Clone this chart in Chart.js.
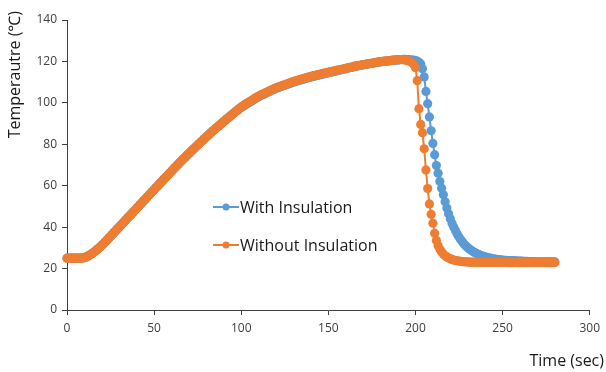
<!DOCTYPE html>
<html>
<head>
<meta charset="utf-8">
<script src="https://cdn.jsdelivr.net/npm/chart.js@4"></script>
<style>
  html, body { margin: 0; padding: 0; background: #ffffff; }
  #wrap { width: 606px; height: 372px; }
</style>
</head>
<body>
<div id="wrap"><canvas id="c" width="606" height="372"></canvas></div>
<script>
// ---- data ----
const seriesNames = ["With Insulation", "Without Insulation"];
const xTickValues = [0, 50, 100, 150, 200, 250, 300];
const yTickValues = [0, 20, 40, 60, 80, 100, 120, 140];
const xTitle = "Time (sec)";
const yTitle = "Temperautre (\u2103)";

// time in seconds, one reading per second
const time = Array.from({ length: 281 }, (_, i) => i);

const withInsulation = [
  25.0,25.0,25.0,25.0,25.0,25.0,25.0,25.0,25.0,25.1,
  25.3,25.6,26.0,26.5,27.0,27.6,28.3,29.0,29.7,30.4,
  31.2,32.0,32.9,33.8,34.7,35.6,36.5,37.4,38.3,39.2,
  40.1,41.0,41.9,42.8,43.7,44.6,45.5,46.4,47.3,48.2,
  49.1,50.0,50.9,51.8,52.7,53.6,54.5,55.4,56.3,57.2,
  58.1,59.0,59.9,60.8,61.7,62.6,63.5,64.3,65.2,66.1,
  67.0,67.9,68.8,69.6,70.5,71.4,72.2,73.1,73.9,74.8,
  75.6,76.4,77.2,78.0,78.8,79.6,80.4,81.2,82.0,82.8,
  83.6,84.4,85.1,85.9,86.6,87.4,88.1,88.8,89.6,90.3,
  91.0,91.7,92.4,93.1,93.8,94.5,95.2,95.9,96.6,97.3,
  97.8,98.3,98.8,99.4,99.9,100.4,100.9,101.5,102.0,102.5,
  103.0,103.4,103.8,104.2,104.6,105.0,105.4,105.8,106.2,106.6,
  107.0,107.3,107.6,107.9,108.2,108.5,108.8,109.1,109.4,109.7,
  110.0,110.3,110.5,110.8,111.0,111.3,111.5,111.8,112.0,112.3,
  112.5,112.7,112.9,113.1,113.3,113.5,113.7,113.9,114.1,114.3,
  114.5,114.7,114.9,115.1,115.3,115.5,115.7,115.9,116.1,116.3,
  116.5,116.7,116.9,117.1,117.3,117.5,117.7,117.9,118.0,118.2,
  118.4,118.5,118.7,118.8,119.0,119.1,119.3,119.4,119.6,119.7,
  119.8,119.9,120.0,120.1,120.2,120.3,120.4,120.5,120.6,120.6,
  120.7,120.8,120.9,121.0,121.0,120.9,120.9,120.8,120.7,120.6,
  120.4,120.1,119.6,118.8,116.5,112.5,105.5,99.6,93.2,86.5,
  80.4,75.0,69.7,66.0,62.0,58.8,55.6,52.2,49.2,46.5,
  44.0,41.8,39.9,38.2,36.6,35.2,33.9,32.8,31.8,30.9,
  30.1,29.4,28.8,28.2,27.7,27.3,26.9,26.5,26.2,25.9,
  25.7,25.4,25.2,25.0,24.8,24.7,24.5,24.4,24.3,24.2,
  24.1,24.0,24.0,23.9,23.9,23.8,23.8,23.7,23.7,23.6,
  23.6,23.6,23.5,23.5,23.5,23.4,23.4,23.4,23.4,23.3,
  23.3,23.3,23.3,23.3,23.2,23.2,23.2,23.2,23.2,23.2,23.2
];

const withoutInsulation = [
  25.0,25.0,25.0,25.0,25.0,25.0,25.0,25.0,25.0,25.1,
  25.3,25.6,26.0,26.5,27.0,27.6,28.3,29.0,29.7,30.4,
  31.2,32.0,32.9,33.8,34.7,35.6,36.5,37.4,38.3,39.2,
  40.1,41.0,41.9,42.8,43.7,44.6,45.5,46.4,47.3,48.2,
  49.1,50.0,50.9,51.8,52.7,53.6,54.5,55.4,56.3,57.2,
  58.1,59.0,59.9,60.8,61.7,62.6,63.5,64.3,65.2,66.1,
  67.0,67.9,68.8,69.6,70.5,71.4,72.2,73.1,73.9,74.8,
  75.6,76.4,77.2,78.0,78.8,79.6,80.4,81.2,82.0,82.8,
  83.6,84.4,85.1,85.9,86.6,87.4,88.1,88.8,89.6,90.3,
  91.0,91.7,92.4,93.1,93.8,94.5,95.2,95.9,96.6,97.3,
  98.0,98.6,99.1,99.7,100.2,100.7,101.2,101.8,102.3,102.8,
  103.3,103.7,104.1,104.5,104.9,105.3,105.7,106.1,106.5,106.9,
  107.3,107.6,107.9,108.2,108.5,108.8,109.1,109.4,109.7,110.0,
  110.3,110.6,110.8,111.1,111.3,111.6,111.8,112.1,112.3,112.6,
  112.8,113.0,113.2,113.4,113.6,113.8,114.0,114.2,114.4,114.6,
  114.8,115.0,115.1,115.4,115.5,115.8,115.9,116.1,116.3,116.4,
  116.6,116.9,117.2,117.1,117.4,117.7,117.8,118.1,118.0,118.3,
  118.4,118.6,118.7,118.9,119.1,119.0,119.3,119.5,119.6,119.8,
  119.9,120.0,120.1,120.2,120.3,120.4,120.5,120.6,120.7,120.8,
  120.8,120.9,120.9,120.8,120.7,120.5,120.3,120.0,119.4,118.6,
  117.0,110.7,97.2,89.6,85.6,77.8,67.6,58.6,51.2,46.2,
  41.9,37.0,33.5,31.0,29.3,28.0,27.0,26.2,25.6,25.1,
  24.7,24.4,24.1,23.9,23.7,23.6,23.5,23.4,23.3,23.2,
  23.2,23.1,23.1,23.1,23.0,23.0,23.0,23.0,23.0,23.0,
  23.0,23.0,23.0,23.0,23.0,23.0,23.0,23.0,23.0,23.0,
  23.0,23.0,23.0,22.9,23.0,22.9,22.9,23.0,22.9,22.9,
  22.9,22.9,22.9,22.9,22.9,22.9,22.9,22.9,22.9,22.9,
  22.9,22.9,22.9,22.9,22.9,22.9,22.9,22.9,22.9,22.9,22.9
];

// ---- styles ----
const BLUE = "#5B9BD5";
const ORANGE = "#ED7D31";
const AXIS = "#404040";
const FONT = "'Open Sans', 'Noto Sans', sans-serif";

const toXY = (vals) => vals.map((v, i) => ({ x: time[i], y: v }));

const overlayPlugin = {
  id: "overlay",
  afterDraw(chart) {
    const ctx = chart.ctx;
    ctx.save();
    // Legend inside plot area (drawn in dataset index order)
    const legendX = 213, lineLen = 26, rowY = [207, 245];
    chart.data.datasets.forEach((ds, i) => {
      const y = rowY[i];
      ctx.strokeStyle = ds.borderColor;
      ctx.lineWidth = 2;
      ctx.beginPath();
      ctx.moveTo(legendX, y);
      ctx.lineTo(legendX + lineLen, y);
      ctx.stroke();
      ctx.fillStyle = ds.borderColor;
      ctx.beginPath();
      ctx.arc(legendX + lineLen / 2, y, 3.5, 0, Math.PI * 2);
      ctx.fill();
      ctx.fillStyle = "#1a1a1a";
      ctx.font = "16px " + FONT;
      ctx.textAlign = "left";
      ctx.textBaseline = "middle";
      ctx.fillText(ds.label, legendX + lineLen + 1, y + 1);
    });
    // X axis title (bottom right)
    ctx.fillStyle = "#1a1a1a";
    ctx.font = "16px " + FONT;
    ctx.textAlign = "right";
    ctx.textBaseline = "middle";
    ctx.fillText(xTitle, 604, 361);
    // Y axis title (rotated, aligned to top)
    ctx.translate(15, 11);
    ctx.rotate(-Math.PI / 2);
    ctx.textAlign = "right";
    ctx.textBaseline = "middle";
    ctx.font = "16px " + FONT;
    ctx.fillText(yTitle, 0, 0);
    ctx.restore();
  }
};

new Chart(document.getElementById("c"), {
  type: "line",
  data: {
    datasets: [
      {
        label: seriesNames[0],
        data: toXY(withInsulation),
        borderColor: BLUE,
        backgroundColor: BLUE,
        pointBackgroundColor: BLUE,
        pointBorderWidth: 0,
        pointRadius: 4.6,
        borderWidth: 2,
        tension: 0,
        clip: false,
        order: 2
      },
      {
        label: seriesNames[1],
        data: toXY(withoutInsulation),
        borderColor: ORANGE,
        backgroundColor: ORANGE,
        pointBackgroundColor: ORANGE,
        pointBorderWidth: 0,
        pointRadius: 4.6,
        borderWidth: 2,
        tension: 0,
        clip: false,
        order: 1
      }
    ]
  },
  options: {
    responsive: false,
    animation: false,
    devicePixelRatio: 1,
    layout: { padding: { top: 20, right: 16, left: 0, bottom: 0 } },
    plugins: {
      legend: { display: false },
      tooltip: { enabled: false }
    },
    scales: {
      x: {
        type: "linear",
        min: 0,
        max: 300,
        afterBuildTicks: (axis) => { axis.ticks = xTickValues.map(v => ({ value: v })); },
        afterFit: (axis) => { axis.height = 62; },
        ticks: { color: AXIS, font: { family: FONT, size: 12 }, padding: 6, maxRotation: 0 },
        grid: { display: true, drawOnChartArea: false, drawTicks: true, tickLength: 5, color: AXIS },
        border: { display: true, color: AXIS, width: 1 }
      },
      y: {
        type: "linear",
        min: 0,
        max: 140,
        afterBuildTicks: (axis) => { axis.ticks = yTickValues.map(v => ({ value: v })); },
        afterFit: (axis) => { axis.width = 67; },
        ticks: { color: AXIS, font: { family: FONT, size: 12 }, padding: 5 },
        grid: { display: true, drawOnChartArea: false, drawTicks: true, tickLength: 5, color: AXIS },
        border: { display: true, color: AXIS, width: 1 }
      }
    }
  },
  plugins: [overlayPlugin]
});
</script>
</body>
</html>
